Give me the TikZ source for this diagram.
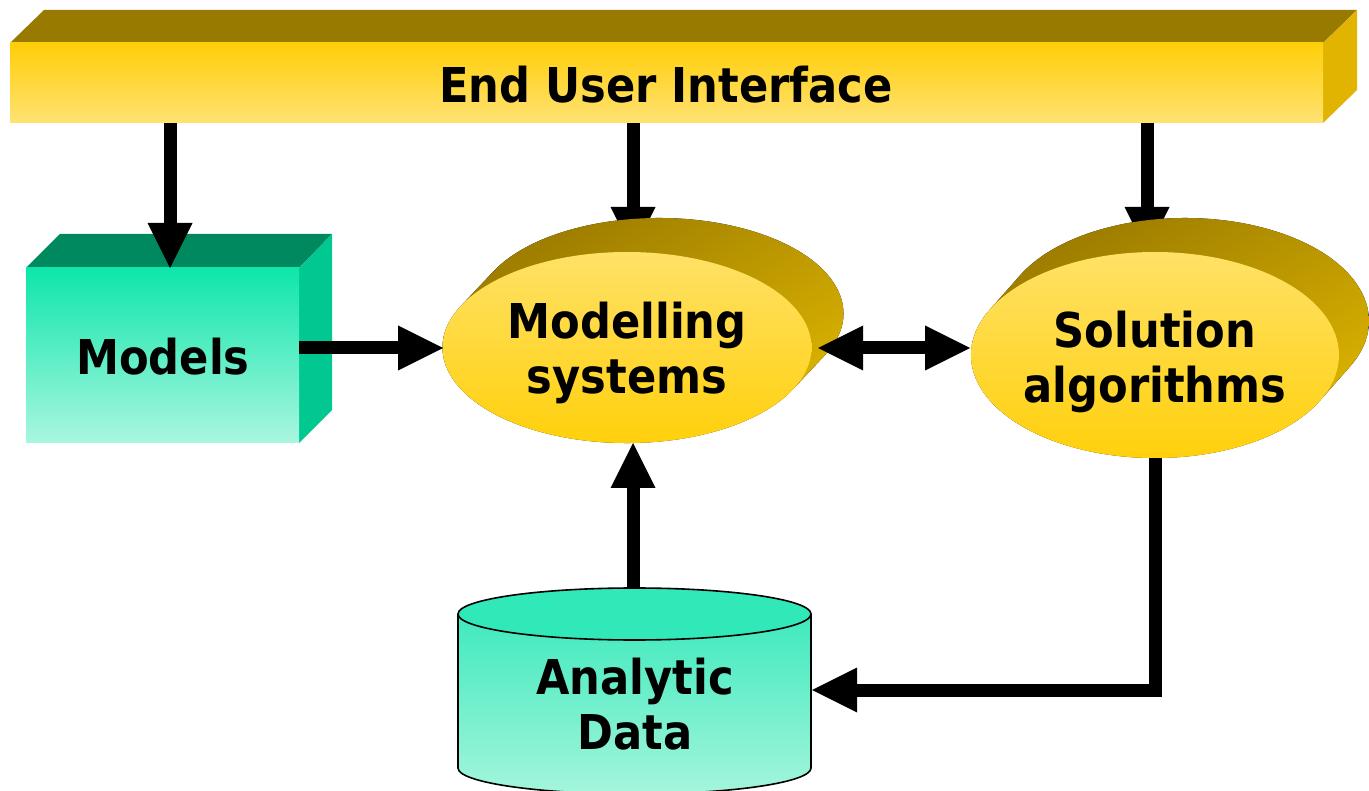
\documentclass[tikz,border=0pt]{standalone}
\usepackage{fontspec}
\newfontfamily\lab[FakeStretch=0.9]{DejaVu Sans}
\usetikzlibrary{arrows.meta,shapes.geometric}

\definecolor{goldTop}{HTML}{997A00}
\definecolor{goldSide}{HTML}{E0B400}
\definecolor{goldHi}{HTML}{FFCE08}
\definecolor{goldLo}{HTML}{FFE273}
\definecolor{ovalHi}{HTML}{FFE166}
\definecolor{ovalLo}{HTML}{FFD00C}
\definecolor{extDark}{HTML}{977700}
\definecolor{extMid}{HTML}{B89600}
\definecolor{extLight}{HTML}{E0B800}
\definecolor{mintTop}{HTML}{00895F}
\definecolor{mintSide}{HTML}{00C890}
\definecolor{mintHi}{HTML}{0EE6AA}
\definecolor{mintLo}{HTML}{AAF6E0}
\definecolor{cylHi}{HTML}{30E8B8}
\definecolor{cylLo}{HTML}{A4F5DC}

% swept (extruded) rim of an ellipse: centre, x/y radius, depth offset
\newcommand\ovalrim[6]{%
  \pgfmathsetmacro\rimT{atan((#4*#5)/(-#3*#6))}%
  \pgfmathsetmacro\rimX{#1+#5+#3*cos(\rimT+180)}%
  \pgfmathsetmacro\rimY{#2+#6+#4*sin(\rimT+180)}%
  \fill[rim] (\rimX,\rimY)
    arc[start angle=\rimT+180, end angle=\rimT+360, x radius=#3, y radius=#4]
    -- ++(-#5,-#6)
    arc[start angle=\rimT, end angle=\rimT+180, x radius=#3, y radius=#4]
    -- cycle;}

\begin{document}
\begin{tikzpicture}[x=1pt,y=-1pt,
  txt/.style={font=\lab\bfseries\fontsize{48}{55}\selectfont, text=black, align=center, inner sep=0pt},
  flow/.style={line width=13pt, -{Triangle[length=45pt,width=45pt,line width=0pt]}},
  bothflow/.style={line width=13pt, {Triangle[length=45pt,width=45pt,line width=0pt]}-{Triangle[length=45pt,width=45pt,line width=0pt]}},
  rim/.style={top color=extDark, middle color=extMid, bottom color=extLight, shading angle=30},
  oval/.style={ellipse, inner sep=0pt, outer sep=0pt, top color=ovalHi, bottom color=ovalLo},
  face/.style={rectangle, inner sep=0pt, outer sep=0pt}]
\useasboundingbox (0,0) rectangle (1369,791);

% connector end points
\coordinate (uiA) at (170,123);  \coordinate (mdlTop) at (170,268);
\coordinate (uiB) at (633,123);  \coordinate (msTop) at (633,252);
\coordinate (uiC) at (1147,123); \coordinate (solTop) at (1147,252);
\coordinate (mdlR) at (299,348); \coordinate (msL) at (443,348);
\coordinate (msR) at (818,348);  \coordinate (solL) at (970,348);
\coordinate (cylTop) at (633,588); \coordinate (msBot) at (633,443);
\coordinate (solBot) at (1155,458); \coordinate (cylR) at (812,690);

% End user interface bar
\fill[goldTop] (10,43) -- (44,10) -- (1357,10) -- (1323,43) -- cycle;
\fill[goldSide] (1323,43) -- (1357,10) -- (1357,90) -- (1323,123) -- cycle;
\node[face, minimum width=1313pt, minimum height=80pt, top color=goldHi, bottom color=goldLo]
  (ui) at (666.5,83) {};
\node[txt] (uiT) at (666,85) {End User Interface};

% arrows that run under the ovals
\draw[flow] (uiB) -- (msTop);
\draw[flow] (uiC) -- (solTop);

% Models box
\fill[mintTop] (26,268) -- (60,234) -- (332,234) -- (299,268) -- cycle;
\fill[mintSide] (299,268) -- (332,234) -- (332,410) -- (299,443) -- cycle;
\node[face, minimum width=273pt, minimum height=175pt, top color=mintHi, bottom color=mintLo]
  (mdl) at (162.5,355.5) {};
\node[txt] (mdlT) at (163,357) {Models};
\draw[flow] (uiA) -- (mdlTop);

% Modelling systems oval
\ovalrim{627}{347.5}{184.5}{95.5}{32}{-34}
\node[oval, minimum width=369pt, minimum height=191pt] (ms) at (627,347.5) {};
\node[txt] (msT) at (627,353) {Modelling\\systems};

% Solution algorithms oval
\ovalrim{1155}{355}{184}{103}{30}{-34}
\node[oval, minimum width=368pt, minimum height=206pt] (sol) at (1155,355) {};
\node[txt] (solT) at (1155,361.5) {Solution\\algorithms};

% Analytic data cylinder
\fill[top color=cylHi, bottom color=cylLo] (458,614) -- (458,768)
  arc[start angle=180, end angle=0, x radius=176.5, y radius=26]
  -- (811,614) arc[start angle=0, end angle=-180, x radius=176.5, y radius=26] -- cycle;
\draw[line width=1.6pt] (458,614) -- (458,768)
  arc[start angle=180, end angle=0, x radius=176.5, y radius=26] -- (811,614);
\draw[line width=1.6pt, fill=cylHi] (634.5,614) ellipse[x radius=176.5, y radius=26];
\node[txt] (cylT) at (635,704) {Analytic\\Data};

% remaining connectors
\draw[flow] (mdlR) -- (msL);
\draw[bothflow] (msR) -- (solL);
\draw[flow] (cylTop) -- (msBot);
\draw[flow] (solBot) |- (cylR);
\end{tikzpicture}
\end{document}
